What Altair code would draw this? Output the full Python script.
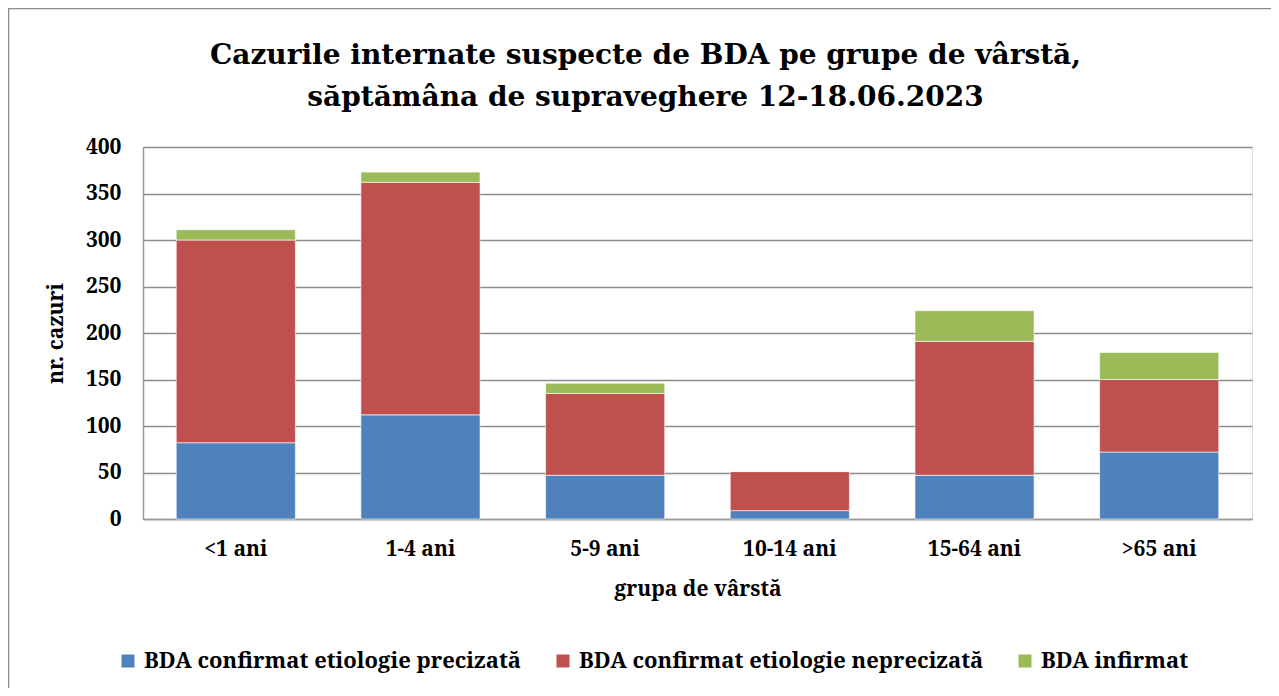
import altair as alt
import pandas as pd

categories = ["<1 ani", "1-4 ani", "5-9 ani", "10-14 ani", "15-64 ani", ">65 ani"]
series = ["BDA confirmat etiologie precizată", "BDA confirmat etiologie neprecizată", "BDA infirmat"]
precizata = [82, 112, 47, 9, 47, 72]
neprecizata = [218, 250, 88, 42, 144, 78]
infirmat = [11, 11, 11, 0, 33, 29]
colors = ["#4F81BD", "#C0504D", "#9BBB59"]

rows = []
for i, c in enumerate(categories):
    for k, (s, vals) in enumerate(zip(series, [precizata, neprecizata, infirmat])):
        rows.append({"grupa": c, "serie": s, "valoare": vals[i], "ord": k})
df = pd.DataFrame(rows)

FONT_T = "DejaVu Serif"
FONT = "Noto Serif"

bars = alt.Chart(df).mark_bar(stroke="white", strokeWidth=0.6).encode(
    x=alt.X("grupa:N", sort=categories,
            scale=alt.Scale(paddingInner=0.355, paddingOuter=0.18),
            axis=alt.Axis(title="grupa de vârstă", labelAngle=0, labelFontSize=21,
                          labelFont=FONT, labelFontWeight="bold", labelColor="#000",
                          labelPadding=19, ticks=False, domainColor="#9a9a9a",
                          domainWidth=1.5, titleFontSize=21, titleFont=FONT,
                          titleFontWeight="bold", titleColor="#000", titlePadding=19)),
    y=alt.Y("valoare:Q", stack="zero",
            scale=alt.Scale(domain=[0, 400], nice=False),
            axis=alt.Axis(title="nr. cazuri", values=list(range(0, 401, 50)),
                          labelFontSize=21, labelFont=FONT, labelFontWeight="bold",
                          labelColor="#000", labelPadding=22, ticks=False,
                          domainColor="#9a9a9a", domainWidth=1.5,
                          gridColor="#8c8c8c", gridWidth=1.3,
                          titleFontSize=21, titleFont=FONT, titleFontWeight="bold",
                          titleColor="#000", titlePadding=19)),
    color=alt.Color("serie:N", scale=alt.Scale(domain=series, range=colors),
                    legend=alt.Legend(title=None, orient="none", direction="horizontal",
                                      legendX=-26, legendY=503,
                                      labelFontSize=22, labelFont=FONT,
                                      labelFontWeight="bold", labelColor="#000",
                                      symbolType="square", symbolSize=169,
                                      symbolStrokeWidth=0, labelOffset=5,
                                      columnPadding=30, labelLimit=600)),
    order=alt.Order("ord:Q", sort="ascending"),
)

frame = alt.Chart(pd.DataFrame({"a": [0]})).mark_rect(
    fill=None, stroke="#8c8c8c", strokeWidth=1.5
).encode(x=alt.value(-134.5), x2=alt.value(1130), y=alt.value(-138.5), y2=alt.value(600))

chart = alt.layer(frame, bars).properties(
    width=1109, height=372,
    autosize=alt.AutoSizeParams(type="none"),
    padding={"left": 135, "top": 139, "right": 19, "bottom": 169},
    title=alt.Title(["Cazurile internate suspecte de BDA pe grupe de vârstă,",
                     "săptămâna de supraveghere 12-18.06.2023"],
                    font=FONT_T, fontSize=28, fontWeight="bold", color="#000",
                    anchor="middle", dx=-52, offset=-104, lineHeight=42),
).configure_view(stroke=None).configure(background="white")

chart.save("out.html", embed_options={"renderer": "svg", "actions": False})
